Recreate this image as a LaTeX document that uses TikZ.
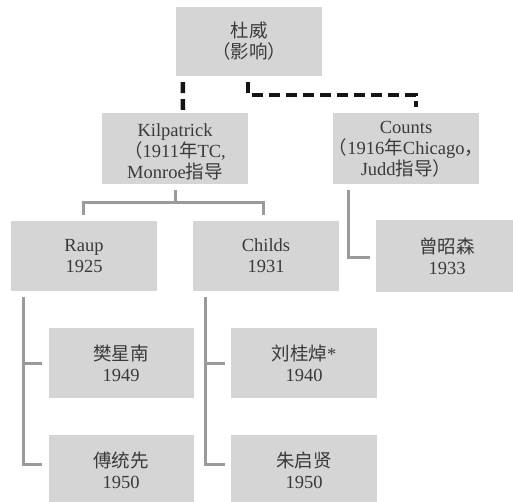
\documentclass[tikz,border=0pt]{standalone}
\usepackage{fontspec}
\setmainfont{Liberation Serif}
\newfontfamily\cjk{Noto Sans CJK SC}
\usetikzlibrary{calc}
\definecolor{boxgray}{HTML}{D5D5D5}
\definecolor{linegray}{HTML}{9A9A9A}
\definecolor{txt}{HTML}{3A3A3A}
\begin{document}
\begin{tikzpicture}[x=1pt,y=-1pt,
  box/.style={fill=boxgray, text=txt, align=center, inner sep=0pt,
    minimum width=146pt, minimum height=70pt, font=\fontsize{18.5}{21}\selectfont},
  lbl/.style={align=center, text=txt, inner sep=0pt, font=\fontsize{18.5}{21}\selectfont},
  conn/.style={draw=linegray, line width=3pt},
  dep/.style={draw=black!92, line width=4.5pt, dash pattern=on 11pt off 6pt}]
\path[use as bounding box, clip] (0,0) rectangle (513,501);
\fill[white] (0,0) rectangle (513,501);

\node[box, minimum height=69pt] (dewey) at (249,41.5) {{\cjk 杜威}\\{\cjk （影响）}};
\node[box, minimum height=71pt] (kil) at (175,148.5) {};
\node[lbl] (kilt) at ($(kil.center)+(0,3)$) {Kilpatrick\\{\cjk （}1911{\cjk 年}TC,\\Monroe{\cjk 指导}};
\node[box, minimum height=71pt] (counts) at (406,148.5) {};
\node[lbl] (countst) at ($(counts.center)+(0,1)$) {Counts\\{\cjk （}1916{\cjk 年}Chicago{\cjk ，}\\Judd{\cjk 指导）}};
\node[box] (raup) at (84,256) {Raup\\1925};
\node[box] (childs) at (266,256) {Childs\\1931};
\node[box, minimum width=142pt, minimum height=72pt] (zeng) at (447,256) {{\cjk 曾昭森}\\1933};
\node[box, minimum width=145pt] (fan) at (121,363) {{\cjk 樊星南}\\1949};
\node[box, minimum width=145pt] (fu) at (121,470) {{\cjk 傅统先}\\1950};
\node[box, minimum width=146pt] (liu) at (304,363) {{\cjk 刘桂焯}*\\1940};
\node[box, minimum width=146pt] (zhu) at (304,470) {{\cjk 朱启贤}\\1950};

% dashed influence lines
\draw[dep] ($(dewey.south west)+(7,6)$) -- ($(kil.north)+(8,-3)$);
\draw[dep] ($(dewey.south west)+(72,6)$) |- ($(counts.north)+(10,-18)$) -- ($(counts.north)+(10,-6)$);

% Kilpatrick -> Raup, Childs
\draw[conn] ($(kil.south)+(0,6)$) -- ($(kil.south)+(0,19)$);
\draw[conn] ($(raup.north)+(-1,-6)$) |- ($(childs.north)+(-3,-18)$) -- ($(childs.north)+(-3,-6)$);

% Counts -> Zeng
\draw[conn] ($(counts.south)+(-58,6)$) |- ($(zeng.west)+(-6,1)$);

% Raup -> students
\coordinate (rl) at ($(raup.south)+(-61,6)$);
\draw[conn] (rl) |- ($(fu.west)+(-6,-6)$);
\draw[conn] (rl |- fan.west) -- ($(fan.west)+(-6,0)$);

% Childs -> students
\coordinate (cl) at ($(childs.south)+(-61,6)$);
\draw[conn] (cl) |- ($(zhu.west)+(-6,-6)$);
\draw[conn] (cl |- liu.west) -- ($(liu.west)+(-6,0)$);
\end{tikzpicture}
\end{document}
